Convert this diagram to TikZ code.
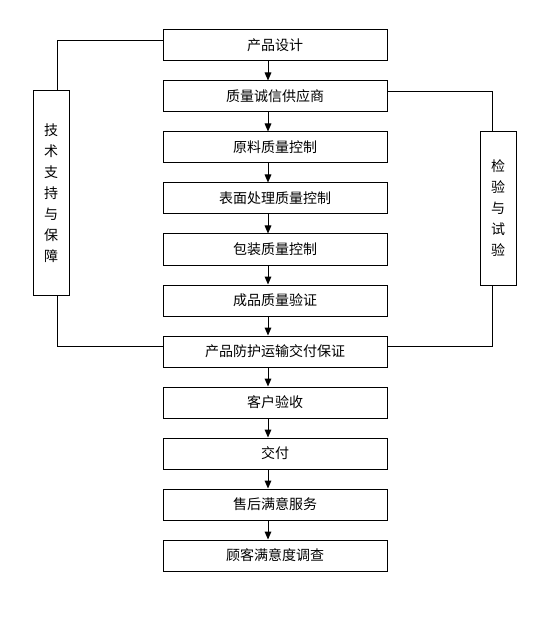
\documentclass[tikz,border=0pt]{standalone}
\usepackage{fontspec}
\setmainfont{Noto Sans CJK SC}
\usetikzlibrary{arrows.meta}

\tikzset{every picture/.style={line width=0.75pt}}
\tikzset{
	stepbox/.style={draw, minimum width=168pt, minimum height=23.25pt, inner sep=0pt, font=\fontsize{10.5pt}{12.6pt}\selectfont},
	sidebox/.style={draw, minimum width=27pt, inner sep=0pt, align=center, font=\fontsize{10.5pt}{15.75pt}\selectfont},
	flow/.style={-{Triangle[length=6pt,width=5pt]}}}

\begin{document}
\begin{tikzpicture}[x=0.75pt,y=0.75pt,yscale=-1,xscale=1]
	\useasboundingbox (0,0) rectangle (559,634);

	% Main chain
	\node[stepbox] (design) at (275,45.5) {产品设计};
	\node[stepbox] (supplier) at (275,96.5) {质量诚信供应商};
	\node[stepbox] (material) at (275,147.5) {原料质量控制};
	\node[stepbox] (surface) at (275,198.5) {表面处理质量控制};
	\node[stepbox] (packing) at (275,249.5) {包装质量控制};
	\node[stepbox] (finished) at (275,300.5) {成品质量验证};
	\node[stepbox] (transport) at (275,351.5) {产品防护运输交付保证};
	\node[stepbox] (accept) at (275,402.5) {客户验收};
	\node[stepbox] (deliver) at (275,453.5) {交付};
	\node[stepbox] (service) at (275,504.5) {售后满意服务};
	\node[stepbox] (survey) at (275,555.5) {顾客满意度调查};

	% Side boxes
	\node[sidebox, minimum height=153pt] (tech) at (51,193) {技\\术\\支\\持\\与\\保\\障};
	\node[sidebox, minimum height=114.75pt] (test) at (498,208.5) {检\\验\\与\\试\\验};

	% Arrows
	\coordinate (ax) at (268,0);
	\draw[flow] (design.south -| ax) -- (supplier.north -| ax);
	\draw[flow] (supplier.south -| ax) -- (material.north -| ax);
	\draw[flow] (material.south -| ax) -- (surface.north -| ax);
	\draw[flow] (surface.south -| ax) -- (packing.north -| ax);
	\draw[flow] (packing.south -| ax) -- (finished.north -| ax);
	\draw[flow] (finished.south -| ax) -- (transport.north -| ax);
	\draw[flow] (transport.south -| ax) -- (accept.north -| ax);
	\draw[flow] (accept.south -| ax) -- (deliver.north -| ax);
	\draw[flow] (deliver.south -| ax) -- (service.north -| ax);
	\draw[flow] (service.south -| ax) -- (survey.north -| ax);

	% Side links
	\coordinate (lt) at (57,40.5);
	\coordinate (lb) at (57,346);
	\coordinate (rt) at (492,91.5);
	\coordinate (rb) at (492,346);
	\draw (design.west |- lt) -- (lt) -- (tech.north -| lt);
	\draw (tech.south -| lb) -- (lb) -- (transport.west |- lb);
	\draw (supplier.east |- rt) -- (rt) -- (test.north -| rt);
	\draw (test.south -| rb) -- (rb) -- (transport.east |- rb);

\end{tikzpicture}
\end{document}
